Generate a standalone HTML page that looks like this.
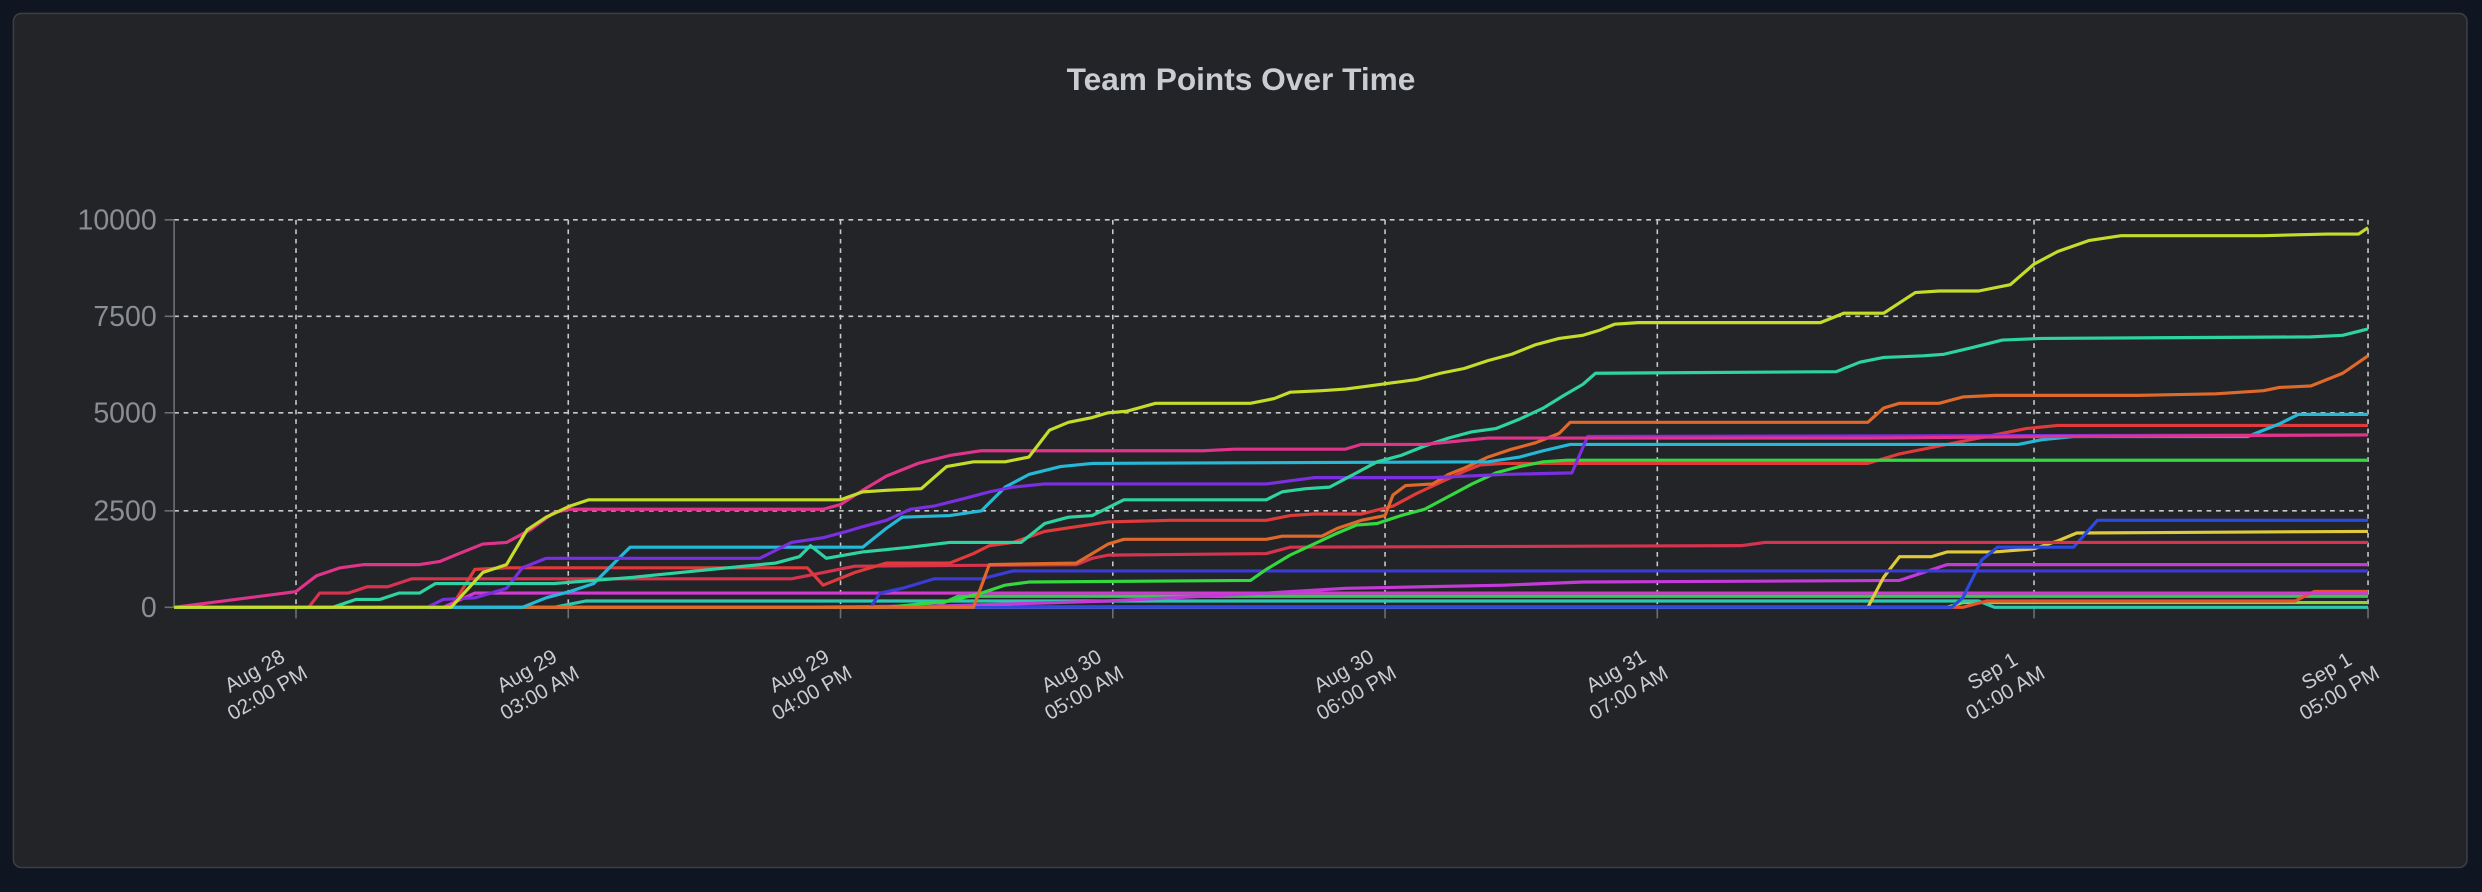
<!DOCTYPE html>
<html><head><meta charset="utf-8"><style>
html,body{margin:0;padding:0;background:#0f1521;width:2482px;height:892px;overflow:hidden}
svg{display:block}
</style></head><body>
<svg width="2482" height="892" viewBox="0 0 1568 564" preserveAspectRatio="none" xmlns="http://www.w3.org/2000/svg" font-family="Liberation Sans, sans-serif">
<rect x="0" y="0" width="1568" height="564" fill="#0f1521"/>
<rect x="8.5" y="8.5" width="1550" height="540" rx="5" fill="#232428" stroke="#3a3e46" stroke-width="1"/>
<text x="784" y="57" text-anchor="middle" font-size="20" font-weight="bold" fill="#c9ccd1">Team Points Over Time</text>
<g stroke="#e6e6e6" stroke-width="1" stroke-dasharray="3 3" fill="none" opacity="0.85">
<line x1="110" y1="139" x2="1496" y2="139"/>
<line x1="110" y1="200" x2="1496" y2="200"/>
<line x1="110" y1="261" x2="1496" y2="261"/>
<line x1="110" y1="323" x2="1496" y2="323"/>
<line x1="187" y1="139" x2="187" y2="384"/>
<line x1="359" y1="139" x2="359" y2="384"/>
<line x1="531" y1="139" x2="531" y2="384"/>
<line x1="703" y1="139" x2="703" y2="384"/>
<line x1="875" y1="139" x2="875" y2="384"/>
<line x1="1047" y1="139" x2="1047" y2="384"/>
<line x1="1285" y1="139" x2="1285" y2="384"/>
<line x1="1496" y1="139" x2="1496" y2="384"/>
</g>
<g stroke="#6b6e74" stroke-width="1">
<line x1="110" y1="139" x2="110" y2="384"/>
<line x1="104" y1="139" x2="110" y2="139"/><line x1="104" y1="200" x2="110" y2="200"/><line x1="104" y1="261" x2="110" y2="261"/><line x1="104" y1="323" x2="110" y2="323"/><line x1="104" y1="384" x2="110" y2="384"/>
<line x1="187" y1="384" x2="187" y2="391"/><line x1="359" y1="384" x2="359" y2="391"/><line x1="531" y1="384" x2="531" y2="391"/><line x1="703" y1="384" x2="703" y2="391"/><line x1="875" y1="384" x2="875" y2="391"/><line x1="1047" y1="384" x2="1047" y2="391"/><line x1="1285" y1="384" x2="1285" y2="391"/><line x1="1496" y1="384" x2="1496" y2="391"/>
</g>
<g font-size="18" fill="#8a8d93" text-anchor="end">
<text x="99" y="145">10000</text><text x="99" y="206">7500</text><text x="99" y="267">5000</text><text x="99" y="329">2500</text><text x="99" y="390">0</text>
</g>
<g font-size="13" fill="#c9ccd1" text-anchor="middle">
<g transform="translate(163,428) rotate(-30)"><text x="0" y="0">Aug 28</text><text x="0" y="16">02:00 PM</text></g>
<g transform="translate(335,428) rotate(-30)"><text x="0" y="0">Aug 29</text><text x="0" y="16">03:00 AM</text></g>
<g transform="translate(507,428) rotate(-30)"><text x="0" y="0">Aug 29</text><text x="0" y="16">04:00 PM</text></g>
<g transform="translate(679,428) rotate(-30)"><text x="0" y="0">Aug 30</text><text x="0" y="16">05:00 AM</text></g>
<g transform="translate(851,428) rotate(-30)"><text x="0" y="0">Aug 30</text><text x="0" y="16">06:00 PM</text></g>
<g transform="translate(1023,428) rotate(-30)"><text x="0" y="0">Aug 31</text><text x="0" y="16">07:00 AM</text></g>
<g transform="translate(1261,428) rotate(-30)"><text x="0" y="0">Sep 1</text><text x="0" y="16">01:00 AM</text></g>
<g transform="translate(1472,428) rotate(-30)"><text x="0" y="0">Sep 1</text><text x="0" y="16">05:00 PM</text></g>
</g>
<g fill="none" stroke-width="2" stroke-linejoin="round">
<polyline stroke="#8bd43a" points="110,384 1230,384 1240,381 1496,381"/>
<polyline stroke="#2ec8b0" points="110,384 350,384 370,380 1250,380 1260,384 1496,384"/>
<polyline stroke="#33c955" points="110,384 590,384 605,377 1496,377"/>
<polyline stroke="#e8512a" points="110,384 1240,384 1255,380 1450,380 1462,374 1496,374"/>
<polyline stroke="#d43ad2" points="110,384 280,384 300,375 1496,375"/>
<polyline stroke="#c43ad8" points="110,384 500,384 600,383 700,380 800,375 850,372 900,371 950,370 1000,368 1200,367 1230,357 1496,357"/>
<polyline stroke="#e0c93a" points="110,384 1180,384 1190,365 1200,352 1220,352 1230,349 1260,349 1285,347 1300,342 1312,337 1496,336"/>
<polyline stroke="#3b3bd8" points="110,384 550,384 556,375 570,372 590,366 620,366 640,361 1496,361"/>
<polyline stroke="#2c4ae0" points="110,384 1233,384 1240,378 1252,354 1262,346 1310,346 1325,329 1496,329"/>
<polyline stroke="#d6334f" points="110,384 195,384 202,375 220,375 232,371 245,371 260,366 500,366 520,362 540,358 680,357 690,353 700,351 800,350 815,346 1100,345 1115,343 1496,343"/>
<polyline stroke="#e03a3a" points="110,384 285,384 300,360 320,359 510,359 520,370 540,362 560,356 600,356 615,350 625,345 640,343 660,336 680,333 700,330 740,329 800,329 815,326 830,325 860,325 880,320 895,312 910,305 925,298 935,294 950,293 1180,293 1200,287 1240,279 1260,275 1280,271 1300,269 1496,269"/>
<polyline stroke="#33d93f" points="110,384 560,384 580,382 600,380 620,375 635,370 650,368 790,367 800,360 815,351 830,344 845,337 857,332 870,331 885,326 900,322 915,314 930,306 945,299 960,295 975,292 990,291 1496,291"/>
<polyline stroke="#e0692a" points="110,384 615,384 625,357 680,356 690,350 700,344 710,341 800,341 810,339 835,339 845,334 860,329 875,326 880,313 888,307 905,306 915,300 925,296 940,289 955,284 970,280 985,274 992,267 1180,267 1190,258 1200,255 1225,255 1240,251 1260,250 1350,250 1400,249 1430,247 1440,245 1460,244 1480,236 1496,225"/>
<polyline stroke="#25b9d8" points="110,384 330,384 345,378 360,374 375,369 388,356 398,346 531,346 545,346 560,334 570,327 600,326 620,323 635,308 650,300 670,295 690,293 940,292 960,289 975,285 992,281 1275,281 1290,278 1310,276 1420,276 1440,268 1452,262 1496,262"/>
<polyline stroke="#7a2fe0" points="110,384 270,384 280,379 300,378 320,372 330,359 345,353 480,353 490,348 500,343 520,340 535,336 545,333 560,329 575,322 590,320 610,315 625,311 640,308 660,306 800,306 815,304 830,302 905,302 950,300 993,299 1003,276 1496,275"/>
<polyline stroke="#2dd4a0" points="110,384 210,384 225,379 240,379 252,375 265,375 275,369 350,369 400,365 450,360 490,356 505,352 512,345 522,353 545,349 575,346 600,343 645,343 660,331 675,327 690,326 700,321 710,316 800,316 810,311 825,309 840,308 855,300 870,292 885,288 900,282 915,277 930,273 945,271 960,265 975,258 988,250 1000,243 1008,236 1160,235 1175,229 1190,226 1215,225 1228,224 1245,220 1265,215 1290,214 1460,213 1480,212 1496,208"/>
<polyline stroke="#e0338a" points="110,384 180,375 187,374 200,364 215,359 230,357 265,357 278,355 290,350 305,344 320,343 335,335 350,324 360,322 520,322 531,319 545,310 560,301 580,293 600,288 620,285 760,285 780,284 850,284 860,281 900,281 920,279 940,277 1180,277 1300,276 1496,275"/>
<polyline stroke="#c5dc2a" points="110,384 285,384 305,362 320,357 333,335 345,327 360,320 372,316 531,316 545,311 560,310 582,309 598,295 615,292 635,292 650,289 663,272 675,267 690,264 700,261 712,260 730,255 790,255 805,252 815,248 835,247 850,246 865,244 880,242 895,240 910,236 925,233 940,228 955,224 970,218 985,214 1000,212 1010,209 1020,205 1035,204 1150,204 1165,198 1190,198 1210,185 1225,184 1250,184 1270,180 1285,167 1300,159 1320,152 1340,149 1360,149 1430,149 1470,148 1490,148 1496,144"/>
</g>
</svg>
</body></html>
